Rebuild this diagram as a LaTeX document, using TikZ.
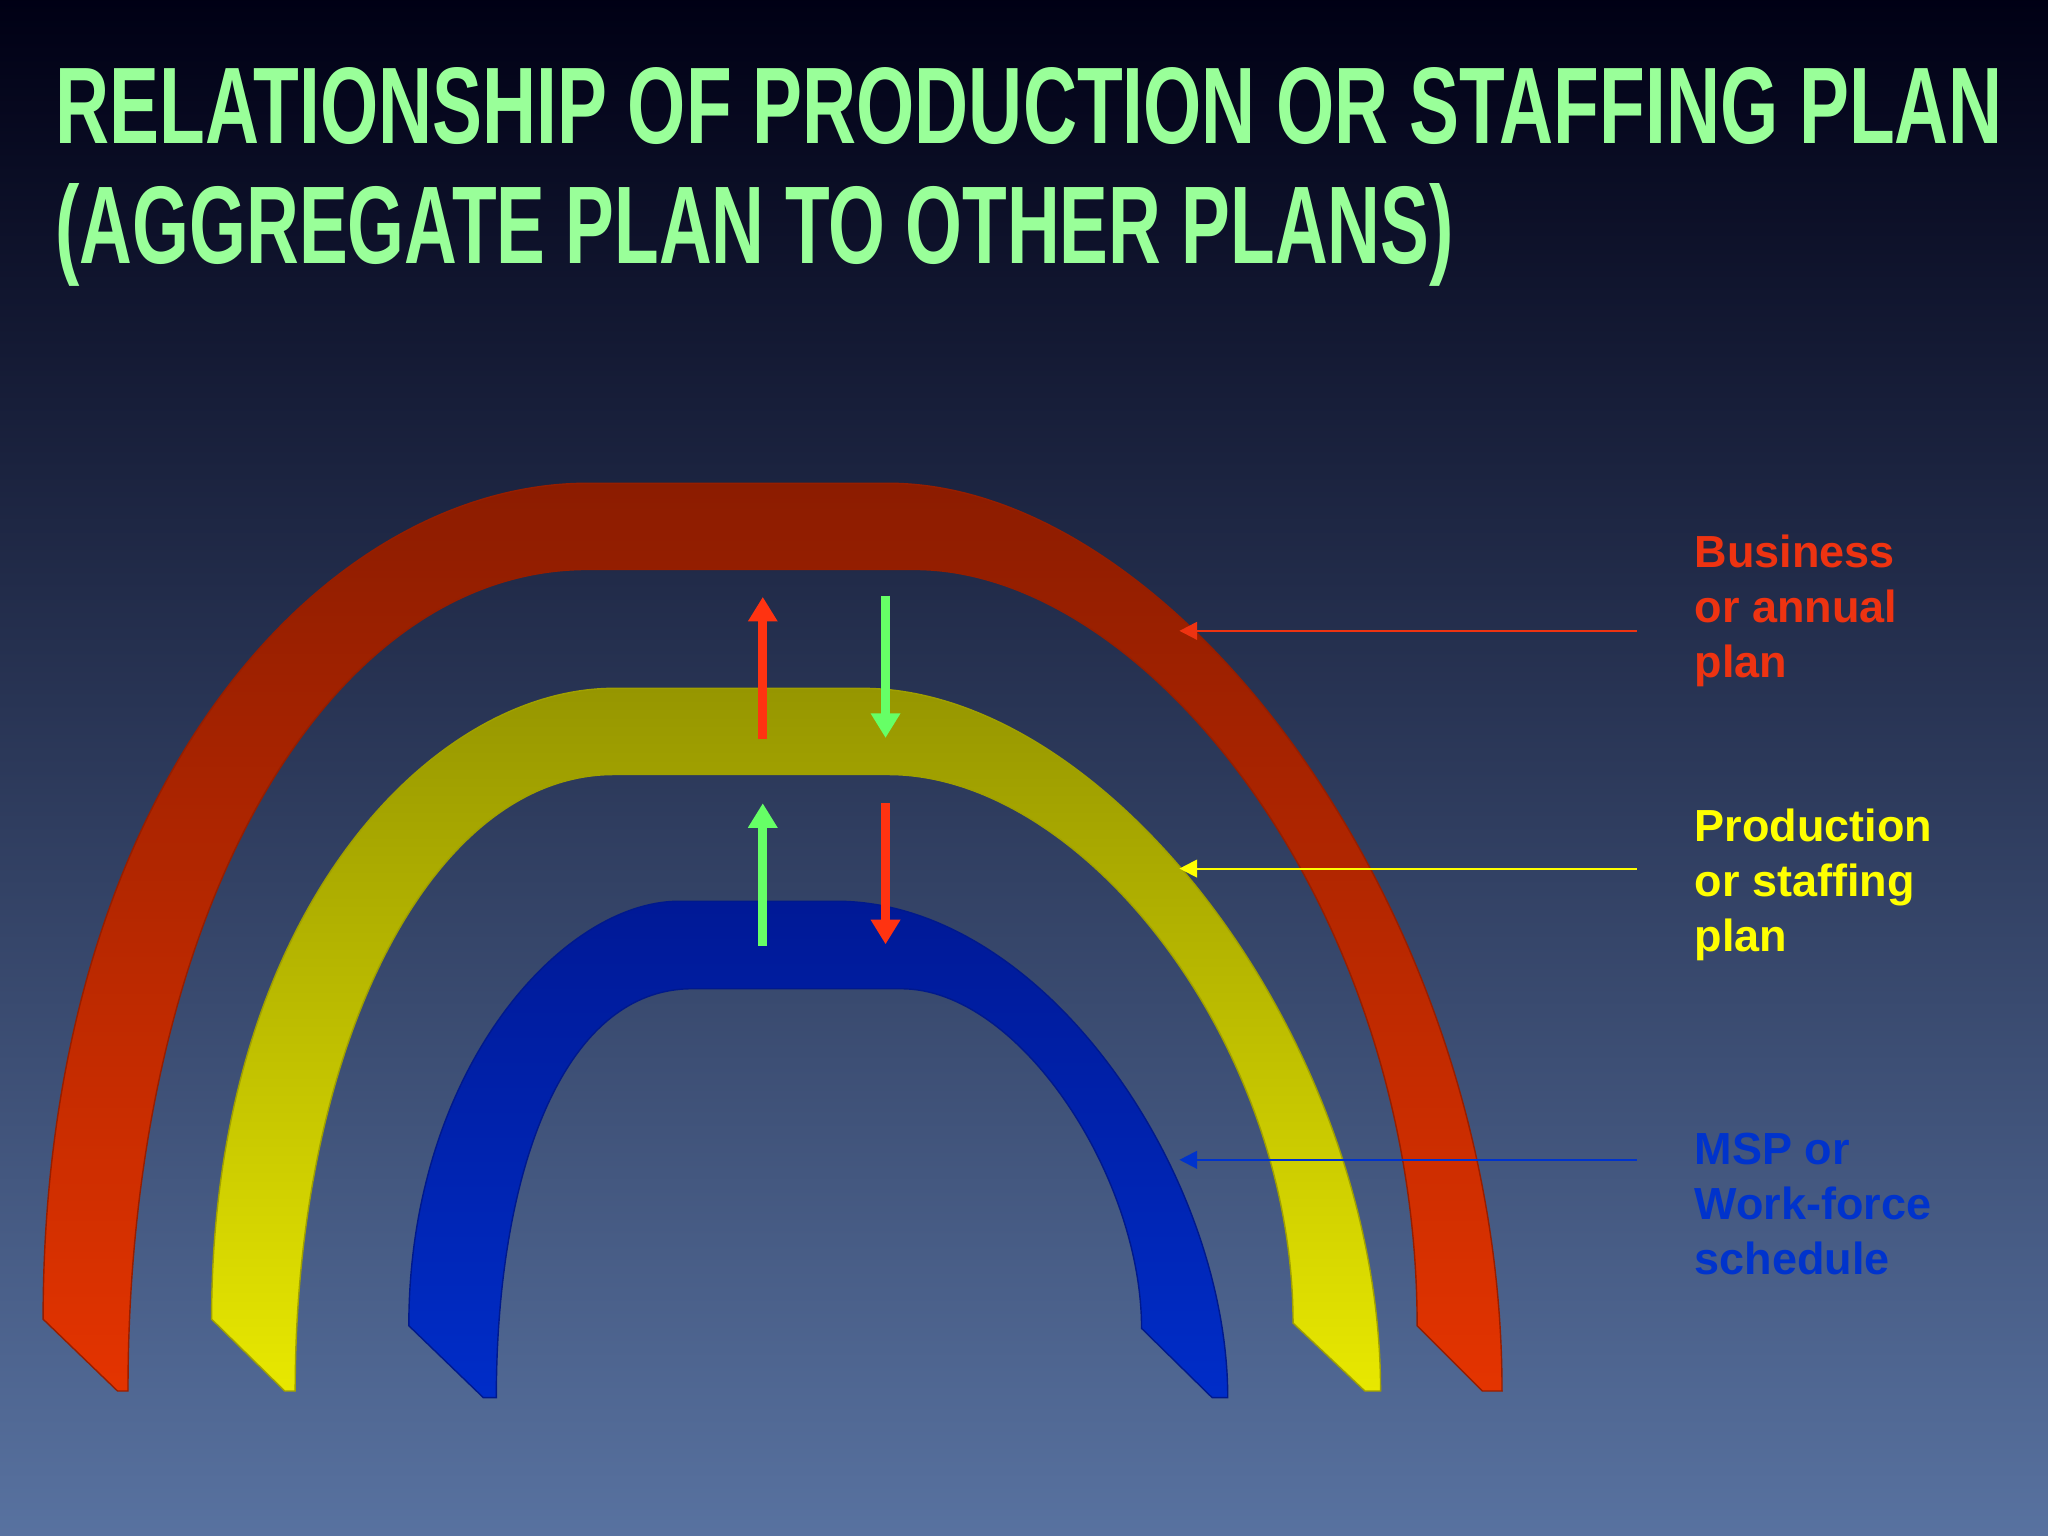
\documentclass[tikz,border=0pt]{standalone}
\usepackage{fontspec}
\setmainfont{Liberation Sans}
\usetikzlibrary{arrows.meta}
\definecolor{ttl}{HTML}{99FF99}
\definecolor{rlab}{HTML}{EE3311}
\definecolor{ylab}{HTML}{FFFF00}
\definecolor{blab}{HTML}{0033CC}
\definecolor{garr}{HTML}{66FF66}
\definecolor{rarr}{HTML}{FF3311}
\tikzset{
  lab/.style={anchor=north west,align=left,font=\bfseries\fontsize{12.8}{15.6}\selectfont,inner sep=0pt},
  ptr/.style={line width=0.6pt,-{Triangle[length=5pt,width=5pt]}},
  vv/.style={line width=2.6pt,-{Triangle[length=7pt,width=8pt]}},
}
\begin{document}
\begin{tikzpicture}[x=0.013061cm,y=-0.013061cm]
\useasboundingbox (0,0) rectangle (1568,1176);
\shade[top color=black!92!blue, bottom color={rgb,255:red,88;green,114;blue,160}] (0,0) rectangle (1568,1176);
\node[anchor=base west,inner sep=0pt,text=ttl] (t1) at (42,110) {\resizebox{19.47cm}{0.76cm}{\bfseries RELATIONSHIP OF PRODUCTION OR STAFFING PLAN}};
\node[anchor=base west,inner sep=0pt,text=ttl] (t2) at (42,202) {\resizebox{13.98cm}{0.8cm}{\bfseries (AGGREGATE PLAN TO OTHER PLANS)}};
% red arch
\shade[top color={rgb,255:red,140;green,28;blue,0}, bottom color={rgb,255:red,228;green,52;blue,0}, draw={rgb,255:red,150;green,30;blue,0}]
 (33,1010) .. controls (33,600) and (250,370) .. (450,370) -- (680,370) .. controls (900,370) and (1150,700) .. (1150,1065) -- (1135,1065) -- (1085,1015) .. controls (1085,700) and (880,436) .. (700,436) -- (450,436) .. controls (250,436) and (98,700) .. (98,1065) -- (90,1065) -- cycle;
% yellow arch
\shade[top color={rgb,255:red,150;green,150;blue,0}, bottom color={rgb,255:red,232;green,232;blue,0}, draw={rgb,255:red,160;green,160;blue,0}]
 (162,1010) .. controls (162,700) and (330,527) .. (470,527) -- (660,527) .. controls (850,527) and (1057,800) .. (1057,1065) -- (1045,1065) -- (990,1013) .. controls (990,800) and (830,593) .. (680,593) -- (470,593) .. controls (330,593) and (226,800) .. (226,1065) -- (218,1065) -- cycle;
% blue arch
\shade[top color={rgb,255:red,0;green,25;blue,150}, bottom color={rgb,255:red,0;green,45;blue,200}, draw={rgb,255:red,0;green,25;blue,140}]
 (313,1015) .. controls (313,820) and (430,690) .. (520,690) -- (640,690) .. controls (800,690) and (940,900) .. (940,1070) -- (928,1070) -- (874,1017) .. controls (874,900) and (780,757) .. (690,757) -- (530,757) .. controls (430,757) and (380,900) .. (380,1070) -- (370,1070) -- cycle;
% vertical arrows
\coordinate (a1) at (584,566); \coordinate (a2) at (584,457);
\coordinate (b1) at (678,456); \coordinate (b2) at (678,565);
\coordinate (c1) at (584,724); \coordinate (c2) at (584,615);
\coordinate (d1) at (678,615); \coordinate (d2) at (678,723);
\draw[vv,rarr] (a1) -- (a2);
\draw[vv,garr] (b1) -- (b2);
\draw[vv,garr] (c1) -- (c2);
\draw[vv,rarr] (d1) -- (d2);
% labels
\node[lab,text=rlab] (L1) at (1297,409) {Business\\or annual\\plan};
\node[lab,text=ylab] (L2) at (1297,619) {Production\\or staffing\\plan};
\node[lab,text=blab] (L3) at (1297,867) {MSP or\\Work-force\\schedule};
\coordinate (p1) at (1253,483); \coordinate (q1) at (903,483);
\coordinate (p2) at (1253,665); \coordinate (q2) at (903,665);
\coordinate (p3) at (1253,888); \coordinate (q3) at (903,888);
\draw[ptr,rlab] (p1) -- (q1);
\draw[ptr,ylab] (p2) -- (q2);
\draw[ptr,blab] (p3) -- (q3);
\end{tikzpicture}
\end{document}
